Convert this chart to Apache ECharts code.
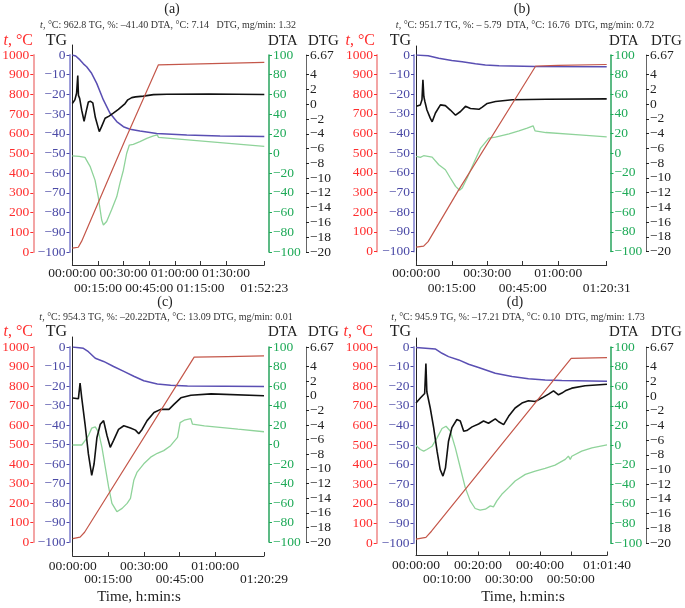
<!DOCTYPE html>
<html>
<head>
<meta charset="utf-8">
<script src="https://cdn.jsdelivr.net/npm/echarts@6/dist/echarts.min.js"></script>
<style>
html, body { margin: 0; padding: 0; background: #fff; }
#chart { width: 685px; height: 608px; }
</style>
</head>
<body>
<div id="chart"></div>
<script>
// time in minutes

// (a)
const endA = 112.3833
const xTicksA = [0, 15, 30, 45, 60, 75, 90, endA]
const tempA = [[0, 20], [3.5, 24], [5.5, 55], [30.9, 568], [50.4, 950], [112.3833, 962.8]]
const tgA = [[0, 0], [2, -0.5], [4.5, -2.5], [6.5, -4.5], [8.4, -6], [11.3, -9.3], [14.3, -14.4], [18.2, -22.8],
  [22.1, -29.6], [26, -33.8], [29.9, -36.4], [33.8, -37.7], [39.6, -38.6], [49.4, -39.8], [67, -40.6], [86.5, -41.1], [112.3833, -41.4]]
const dtaA = [[0, -2.5], [4, -3], [7.4, -4], [10.4, -13], [13.3, -27], [15.2, -44], [17.2, -67.5], [18.2, -72.6], [20.1, -69],
  [23, -57], [26, -44], [27.9, -30], [29.9, -17], [31.8, 0], [33.4, 8.6], [35.7, 9.3], [39.6, 12], [43.6, 15.4], [47.5, 17.8],
  [49.8, 18.8], [50.4, 16.4], [112.3833, 7.14]]
const dtgA = [[0, 0.1], [1.5, 0.6], [2.5, 1.5], [3.2, 3.9], [3.6, 1.2], [4.3, 0.8], [5.5, -0.8], [6.9, -2.3], [8.2, -0.9],
  [9.4, 0.3], [10.7, 0.4], [12, 0.2], [13.5, -1.8], [15.8, -3.7], [17.2, -3.0], [19.2, -1.9], [21.5, -1.6], [24, -1.2],
  [27, -0.7], [30.9, 0.1], [32.5, 0.6], [34.8, 0.9], [37, 1.0], [41.6, 1.1], [47.5, 1.3], [55.3, 1.35], [80, 1.4], [112.3833, 1.32]]

// (b)
const endB = 80.5167
const xTicksB = [0, 15, 30, 45, 60, endB]
const tempB = [[0, 22], [3.1, 27], [5, 50], [17.8, 311], [50.5, 944], [60, 947], [80.5167, 951.7]]
const tgB = [[0, 0], [5, -0.4], [9.5, -1.7], [15, -2.8], [19.4, -3.4], [25, -4.4], [29.2, -5.1], [35, -5.5], [50.5, -5.9], [80.5167, -6.0]]
const dtaB = [[0, -3.2], [1.7, -4.2], [3.1, -2.5], [6.7, -3.9], [9.5, -11.7], [12.3, -16.8], [14.4, -25.2], [16.6, -33.7],
  [18.3, -37.7], [19.4, -35.4], [21.5, -25.2], [24.3, -10], [27.2, 5.2], [30.7, 15.4], [33.5, 16.4], [35.7, 17.7],
  [39.2, 19.8], [43.4, 22.8], [46.9, 25.5], [49.4, 27.9], [50.2, 22.8], [54.8, 21.1], [68.9, 18.8], [80.5167, 16.76]]
const dtgB = [[0, -0.3], [1.7, -0.1], [2.4, 0.6], [2.8, 3.3], [3.2, 1.0], [3.6, 0.4], [4.5, -0.8], [5.9, -1.9], [6.7, -2.4],
  [8.1, -1.2], [10.2, -0.1], [12.3, -0.2], [14.4, -0.8], [16.6, -1.5], [18.7, -1.0], [20.8, -0.3], [22.9, -0.6],
  [26.5, -0.7], [27.9, -0.4], [30, 0.1], [33.5, 0.35], [40.6, 0.6], [54.8, 0.67], [80.5167, 0.72]]

// (c)
const endC = 80.4833
const xTicksC = [0, 15, 30, 45, 60, endC]
const tempC = [[0, 17], [3.1, 25], [5, 50], [51.1, 948], [65, 951], [80.4833, 954.3]]
const tgC = [[0, 0], [4.5, -0.7], [6.6, -2.4], [9.5, -5.8], [13, -7.4], [17.2, -10], [21.5, -12.5], [25.7, -15],
  [29.9, -17.3], [35.6, -19], [41.2, -19.6], [48.3, -20], [80.4833, -20.2]]
const dtaC = [[0, -0.5], [3.8, -0.5], [5.2, 3.9], [6.6, 9], [8, 16.8], [9.5, 18.1], [10.9, 12.4], [12.3, -2.9], [13.7, -23.2],
  [15.1, -43.5], [16.5, -60.4], [18.6, -68.9], [20.8, -65.5], [22.9, -60.4], [24.3, -55.3], [25.7, -36.7], [27.1, -28.3],
  [29.9, -19.8], [32.8, -13], [35.6, -9], [38.3, -6.3], [41.2, -1.2], [44.1, 7.3], [45.2, 22.5], [46.9, 24.9], [49.7, 26.6],
  [50.4, 20.8], [55.4, 19.1], [69.5, 15.7], [80.4833, 13.09]]
const dtgC = [[0, -0.3], [2.4, -0.4], [3.1, 1.75], [3.4, 2.0], [3.8, -0.3], [5.2, -3.9], [6.6, -7.95], [8, -10.9], [9, -9.3],
  [10.2, -5.7], [11.6, -3.9], [13, -3.4], [14.4, -5.4], [15.8, -7.05], [17.2, -6.1], [19.3, -4.6], [21.5, -4.1], [24.3, -4.4],
  [26.4, -4.7], [27.8, -5.2], [29.2, -4.6], [31.3, -3.4], [34.2, -2.3], [37, -1.86], [40.5, -1.86], [42.6, -1.18],
  [45.5, -0.28], [49.7, 0.08], [58.2, 0.26], [80.4833, 0.01]]

// (d)
const endD = 61.6667
const xTicksD = [0, 10, 20, 30, 40, 50, endD]
const tempD = [[0, 20], [3.2, 29], [5, 60], [50.1, 942], [61.6667, 945.9]]
const tgD = [[0, -0.3], [6.2, -1], [8.4, -3.2], [10.5, -4.9], [13.8, -6.6], [17, -8.8], [20.2, -10.5], [25.6, -13.4],
  [31, -15.1], [36.3, -16.2], [41.7, -16.8], [47.1, -17.1], [61.6667, -17.5]]
const dtaD = [[0, -0.5], [1.4, -4.6], [2.5, -6.3], [3.5, -4.6], [5.2, -1.2], [6.8, 7.3], [8.4, 16.8], [9.7, 19.1], [11.1, 14],
  [12.7, -2.9], [14.3, -23.2], [15.9, -43.5], [17.5, -57], [19.1, -64.8], [20.7, -66.5], [22.4, -65.5], [24, -62.1],
  [25, -63.1], [26.1, -57], [27.7, -50.3], [29.9, -43.5], [32, -36.7], [35.3, -30], [38.5, -26.6], [41.7, -23.9],
  [44.9, -20.5], [48.2, -14.7], [49.2, -11.3], [49.8, -14.7], [50.3, -11.5], [53.5, -6.3], [56.8, -2.9], [61.6667, 0.1]]
const dtgD = [[0, -0.96], [1.4, -0.28], [2.8, 0.35], [3.2, 4.41], [3.5, 0.58], [4.6, -1.63], [5.7, -4.3], [6.8, -7.5],
  [7.8, -10], [8.7, -10.9], [9.5, -9.8], [10.5, -6.15], [11.6, -4.3], [13.2, -3.2], [14.3, -3.4], [15.4, -4.8], [16.4, -4.7],
  [18.1, -4.2], [20.2, -3.8], [21.8, -3.4], [23.4, -3.7], [25.6, -3.1], [26.7, -3.5], [28.3, -3.9], [29.9, -2.76], [32, -1.63],
  [34.2, -0.96], [36.3, -0.64], [38.5, -0.74], [40.6, -0.28], [42.8, 0.26], [44.4, 0.71], [46, 0.17], [47.1, 0.4],
  [48.2, 0.71], [50.3, 1.07], [54.6, 1.39], [61.6667, 1.6]]

// y ticks
const dtgTicks = [-20, -18, -16, -14, -12, -10, -8, -6, -4, -2, 0, 2, 4, 6.67]

const subA = '{i|t}, °C: 962.8 TG, %: \u201341.40 DTA, °C: 7.14   DTG, mg/min: 1.32'
const subB = '{i|t}, °C: 951.7 TG, %: \u2013 5.79  DTA, °C: 16.76  DTG, mg/min: 0.72'
const subC = '{i|t}, °C: 954.3 TG, %: \u201320.22DTA, °C: 13.09 DTG, mg/min: 0.01'
const subD = '{i|t}, °C: 945.9 TG, %: \u201317.21 DTA, °C: 0.10  DTG, mg/min: 1.73'

// layout of each panel (px)
const layoutA = {left: 72.3, right: 264.3, top: 55, bottom: 252, frameTop: 45, axisY: 265, red: 33.3, blue: 69.5, green: 269, dtg: 306,
  titleX: 172, titleY: 9.5, subX: 168, subY: 25, nameY: 41, tX: 33, tgX: 67, dtaX: 268, dtgX: 308, row1: 1.5, rowGap: 15}
const layoutB = {left: 416.3, right: 606.7, top: 55, bottom: 251.5, frameTop: 46, axisY: 265, red: 377, blue: 414, green: 610.5, dtg: 646,
  titleX: 522, titleY: 9.5, subX: 525, subY: 25, nameY: 41, tX: 375, tgX: 411, dtaX: 609, dtgX: 651, row1: 1.5, rowGap: 15}
const layoutC = {left: 72.7, right: 264, top: 347, bottom: 542, frameTop: 337, axisY: 556, red: 33.3, blue: 69.5, green: 269, dtg: 306,
  titleX: 165, titleY: 302, subX: 166, subY: 317, nameY: 332, tX: 33, tgX: 67, dtaX: 268, dtgX: 308, row1: 3, rowGap: 13.5}
const layoutD = {left: 416, right: 607, top: 347, bottom: 543, frameTop: 338, axisY: 555.5, red: 376.7, blue: 413.5, green: 610.5, dtg: 646,
  titleX: 515, titleY: 302, subX: 518, subY: 317, nameY: 332, tX: 373, tgX: 411, dtaX: 609, dtgX: 651, row1: 3, rowGap: 14}

const FONT = "'Liberation Serif', 'Times New Roman', serif"

const panels = [
  {temp: tempA, tg: tgA, dta: dtaA, dtg: dtgA, ticks: xTicksA, end: endA, L: layoutA, title: '(a)', sub: subA},
  {temp: tempB, tg: tgB, dta: dtaB, dtg: dtgB, ticks: xTicksB, end: endB, L: layoutB, title: '(b)', sub: subB},
  {temp: tempC, tg: tgC, dta: dtaC, dtg: dtgC, ticks: xTicksC, end: endC, L: layoutC, title: '(c)', sub: subC},
  {temp: tempD, tg: tgD, dta: dtaD, dtg: dtgD, ticks: xTicksD, end: endD, L: layoutD, title: '(d)', sub: subD}
]

function hms (v) {
  const s = Math.round(v * 60)
  const h = Math.floor(s / 3600)
  const m = Math.floor((s % 3600) / 60)
  const sec = s % 60
  return [h, m, sec].map(n => String(n).padStart(2, '0')).join(':')
}

function num (v) {
  return String(v).replace('-', '\u2212')
}

function txt (x, y, text, size, color, align, rich) {
  return {
    type: 'text', x: x, y: y, silent: true,
    style: {
      text: text, fill: color, fontSize: size, fontFamily: FONT,
      align: align, verticalAlign: 'middle', textAlign: align, textVerticalAlign: 'middle',
      rich: rich
    }
  }
}

function yAx (g, pos, offset, min, max, interval, lineColor, lineWidth, labelColor, extra) {
  let ax = {
    gridIndex: g, type: 'value', position: pos, offset: offset, min: min, max: max, interval: interval,
    axisLine: {show: true, onZero: false, lineStyle: {color: lineColor, width: lineWidth}},
    axisTick: {show: true, length: 3, lineStyle: {color: labelColor}},
    axisLabel: {color: labelColor, fontSize: 13.5, fontFamily: FONT, margin: 4, formatter: num,
      showMinLabel: true, showMaxLabel: true, hideOverlap: false},
    splitLine: {show: false}
  }
  if (extra) {
    ax.axisTick.customValues = extra
    ax.axisLabel.customValues = extra
    delete ax.interval
  }
  return ax
}

let grid = [], xAxis = [], yAxis = [], series = [], graphic = []

panels.forEach(p => {
  const L = p.L
  const g = grid.length
  const w = L.right - L.left
  grid.push({left: L.left, top: L.top, width: w, height: L.bottom - L.top, containLabel: false, outerBoundsMode: 'none'})
  grid.push({left: L.left, top: L.frameTop, width: w, height: L.axisY - L.frameTop, containLabel: false, outerBoundsMode: 'none'})

  // staggered time labels: even ticks on the first row, odd ticks on the second row
  const rowOne = p.ticks.filter((t, i) => i % 2 === 0)
  const rowTwo = p.ticks.filter((t, i) => i % 2 === 1)
  const labelStyle = {color: '#222', fontSize: 13.5, fontFamily: FONT, lineHeight: 14,
    showMinLabel: true, showMaxLabel: true, hideOverlap: false, formatter: hms}

  const xi = xAxis.length
  xAxis.push({
    gridIndex: g, type: 'value', min: 0, max: p.end, position: 'bottom',
    axisLine: {show: false, onZero: false}, axisTick: {show: false},
    axisLabel: Object.assign({}, labelStyle, {customValues: rowTwo, margin: L.axisY - L.bottom + L.row1 + L.rowGap}),
    splitLine: {show: false}
  })
  xAxis.push({
    gridIndex: g + 1, type: 'value', min: 0, max: p.end, position: 'bottom',
    axisLine: {show: true, onZero: false, lineStyle: {color: '#333', width: 1}},
    axisTick: {show: true, inside: true, length: 4, customValues: p.ticks, lineStyle: {color: '#333'}},
    axisLabel: Object.assign({}, labelStyle, {customValues: rowOne, margin: L.row1}),
    splitLine: {show: false}
  })

  const yi = yAxis.length
  yAxis.push(yAx(g, 'left', L.left - L.red, 0, 1000, 100, '#f3a5a5', 2, '#ff2d2d'))
  yAxis.push(yAx(g, 'left', L.left - L.blue, -100, 0, 10, '#9d9dda', 2, '#4b4aa6'))
  yAxis.push(yAx(g, 'right', L.green - L.right, -100, 100, 20, '#27a35c', 1.5, '#1faa58'))
  yAxis.push(yAx(g, 'right', L.dtg - L.right, -20, 6.67, null, '#666', 1, '#222', dtgTicks))
  yAxis.push({
    gridIndex: g + 1, type: 'value', min: 0, max: 1, position: 'left',
    axisLine: {show: true, onZero: false, lineStyle: {color: '#222', width: 1}},
    axisTick: {show: false}, axisLabel: {show: false}, splitLine: {show: false}
  })

  const base = {type: 'line', xAxisIndex: xi, symbol: 'none', showSymbol: false, animation: false}
  series.push(Object.assign({}, base, {name: 'DTA', yAxisIndex: yi + 2, data: p.dta, lineStyle: {color: '#8fd39a', width: 1.3}}))
  series.push(Object.assign({}, base, {name: 'TG', yAxisIndex: yi + 1, data: p.tg, lineStyle: {color: '#5a4fb3', width: 1.5}}))
  series.push(Object.assign({}, base, {name: 'DTG', yAxisIndex: yi + 3, data: p.dtg, lineStyle: {color: '#111', width: 1.6}}))
  series.push(Object.assign({}, base, {name: 't', yAxisIndex: yi, data: p.temp, lineStyle: {color: '#c4574a', width: 1.2}}))

  // titles and axis names
  graphic.push(txt(L.titleX, L.titleY, p.title, 14, '#222', 'center'))
  graphic.push(txt(L.subX, L.subY, p.sub, 10, '#333', 'center',
    {i: {fontStyle: 'italic', fontSize: 10, fontFamily: FONT, fill: '#333'}}))
  graphic.push(txt(L.tX, L.nameY, '{i|t}, °C', 16, '#ff2d2d', 'right',
    {i: {fontStyle: 'italic', fontSize: 16, fontFamily: FONT, fill: '#ff2d2d'}}))
  graphic.push(txt(L.tgX, L.nameY, 'TG', 16, '#222', 'right'))
  graphic.push(txt(L.dtaX, L.nameY, 'DTA', 15, '#222', 'left'))
  graphic.push(txt(L.dtgX, L.nameY, 'DTG', 15, '#222', 'left'))
})

graphic.push(txt(139, 597, 'Time, h:min:s', 15, '#222', 'center'))
graphic.push(txt(523, 597, 'Time, h:min:s', 15, '#222', 'center'))

let myChart = echarts.init(document.getElementById('chart'))
myChart.setOption({
  animation: false,
  backgroundColor: '#fff',
  grid: grid,
  xAxis: xAxis,
  yAxis: yAxis,
  series: series,
  graphic: graphic
})
</script>
</body>
</html>
